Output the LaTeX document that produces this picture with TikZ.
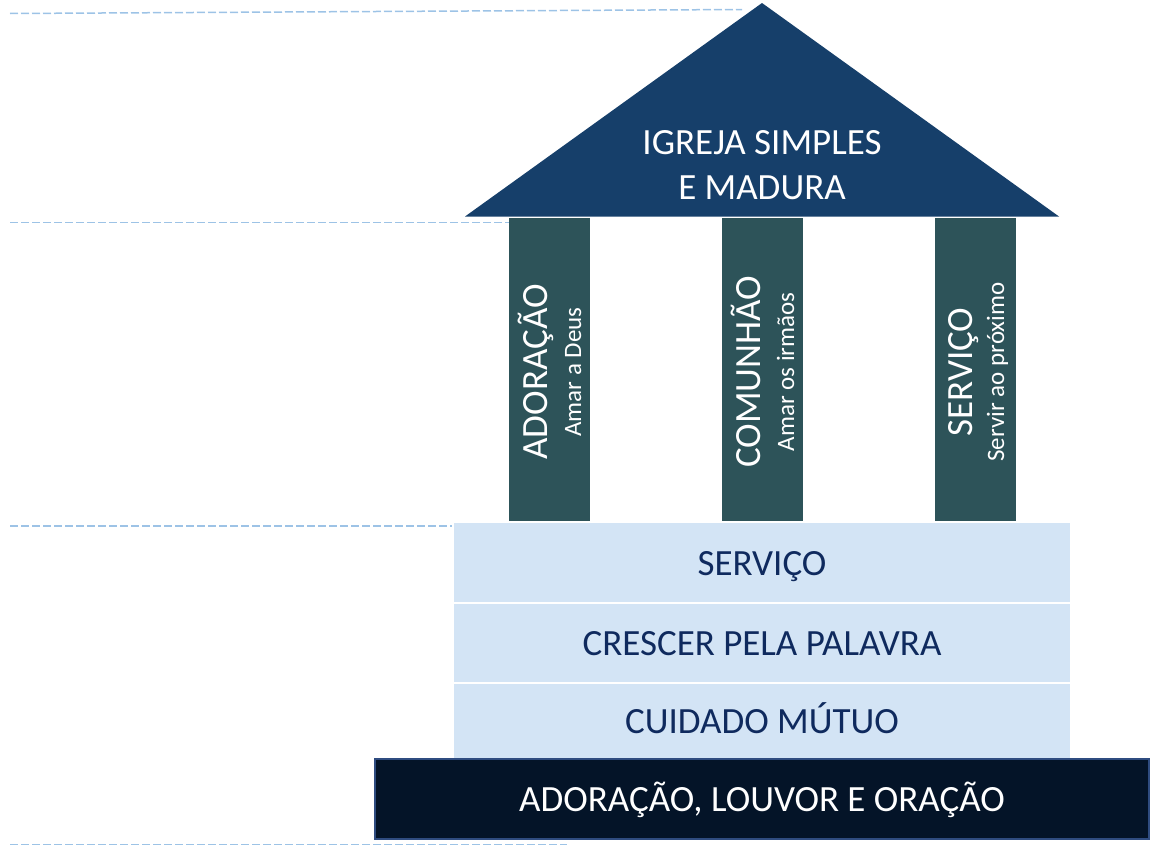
\documentclass[tikz,border=0pt]{standalone}
\usepackage{fontspec}
\setmainfont{Carlito}
\definecolor{roofblue}{HTML}{163F6A}
\definecolor{pillar}{HTML}{2D5359}
\definecolor{lightbox}{HTML}{D3E4F5}
\definecolor{navytext}{HTML}{0F2A5E}
\definecolor{basefill}{HTML}{041428}
\definecolor{baseline}{HTML}{2F4C80}
\definecolor{guide}{HTML}{9DC3E6}
\begin{document}
\begin{tikzpicture}[x=1pt,y=-1pt,
  guideline/.style={draw=guide,line width=1.5pt,dash pattern=on 8pt off 3pt},
  pillarbox/.style={fill=pillar,draw=none},
  layerbox/.style={fill=lightbox,draw=none},
  bigtext/.style={font=\fontsize{37}{44}\selectfont,inner sep=0pt},
  subtext/.style={font=\fontsize{25}{29}\selectfont,inner sep=0pt},
  ]
\useasboundingbox (0,0) rectangle (1151,846);
% guide lines
\coordinate (g1a) at (10,13.5); \coordinate (g1b) at (742,9.5);
\coordinate (g2a) at (10,222.3); \coordinate (g2b) at (509,222.3);
\coordinate (g3a) at (10,526); \coordinate (g3b) at (452,526);
\coordinate (g4a) at (10,844.5); \coordinate (g4b) at (567,844.5);
\draw[guideline] (g1a) -- (g1b);
\draw[guideline] (g2a) -- (g2b);
\draw[guideline] (g3a) -- (g3b);
\draw[guideline] (g4a) -- (g4b);
% roof
\coordinate (rl) at (465,216.5);
\coordinate (rt) at (762,3);
\coordinate (rr) at (1059,216.5);
\fill[roofblue] (rl) -- (rt) -- (rr) -- cycle;
\node[bigtext,text=white,anchor=base] (title1) at (762,154) {IGREJA SIMPLES};
\node[bigtext,text=white,anchor=base] (title2) at (762,199) {E MADURA};
% pillars
\fill[pillarbox] (509,218) rectangle (590,521);
\fill[pillarbox] (722,218) rectangle (803,521);
\fill[pillarbox] (935,218) rectangle (1016,521);
\node[bigtext,text=white,rotate=90,anchor=base] (p1a) at (547,372) {ADORAÇÃO};
\node[subtext,text=white,rotate=90,anchor=base] (p1b) at (581,372) {Amar a Deus};
\node[bigtext,text=white,rotate=90,anchor=base] (p2a) at (760,372) {COMUNHÃO};
\node[subtext,text=white,rotate=90,anchor=base] (p2b) at (794,372) {Amar os irmãos};
\node[bigtext,text=white,rotate=90,anchor=base] (p3a) at (972,372) {SERVIÇO};
\node[subtext,text=white,rotate=90,anchor=base] (p3b) at (1004,372) {Servir ao próximo};
% layers
\fill[layerbox] (454,523) rectangle (1070,602);
\fill[layerbox] (454,604) rectangle (1070,682);
\fill[layerbox] (454,684) rectangle (1070,758);
\node[bigtext,text=navytext,anchor=base] (l1) at (762,575) {SERVIÇO};
\node[bigtext,text=navytext,anchor=base] (l2) at (762,655) {CRESCER PELA PALAVRA};
\node[bigtext,text=navytext,anchor=base] (l3) at (762,733) {CUIDADO MÚTUO};
% base
\filldraw[fill=basefill,draw=baseline,line width=2pt] (375,759) rectangle (1149,839);
\node[bigtext,text=white,anchor=base] (b) at (762,811) {ADORAÇÃO, LOUVOR E ORAÇÃO};
\end{tikzpicture}
\end{document}
